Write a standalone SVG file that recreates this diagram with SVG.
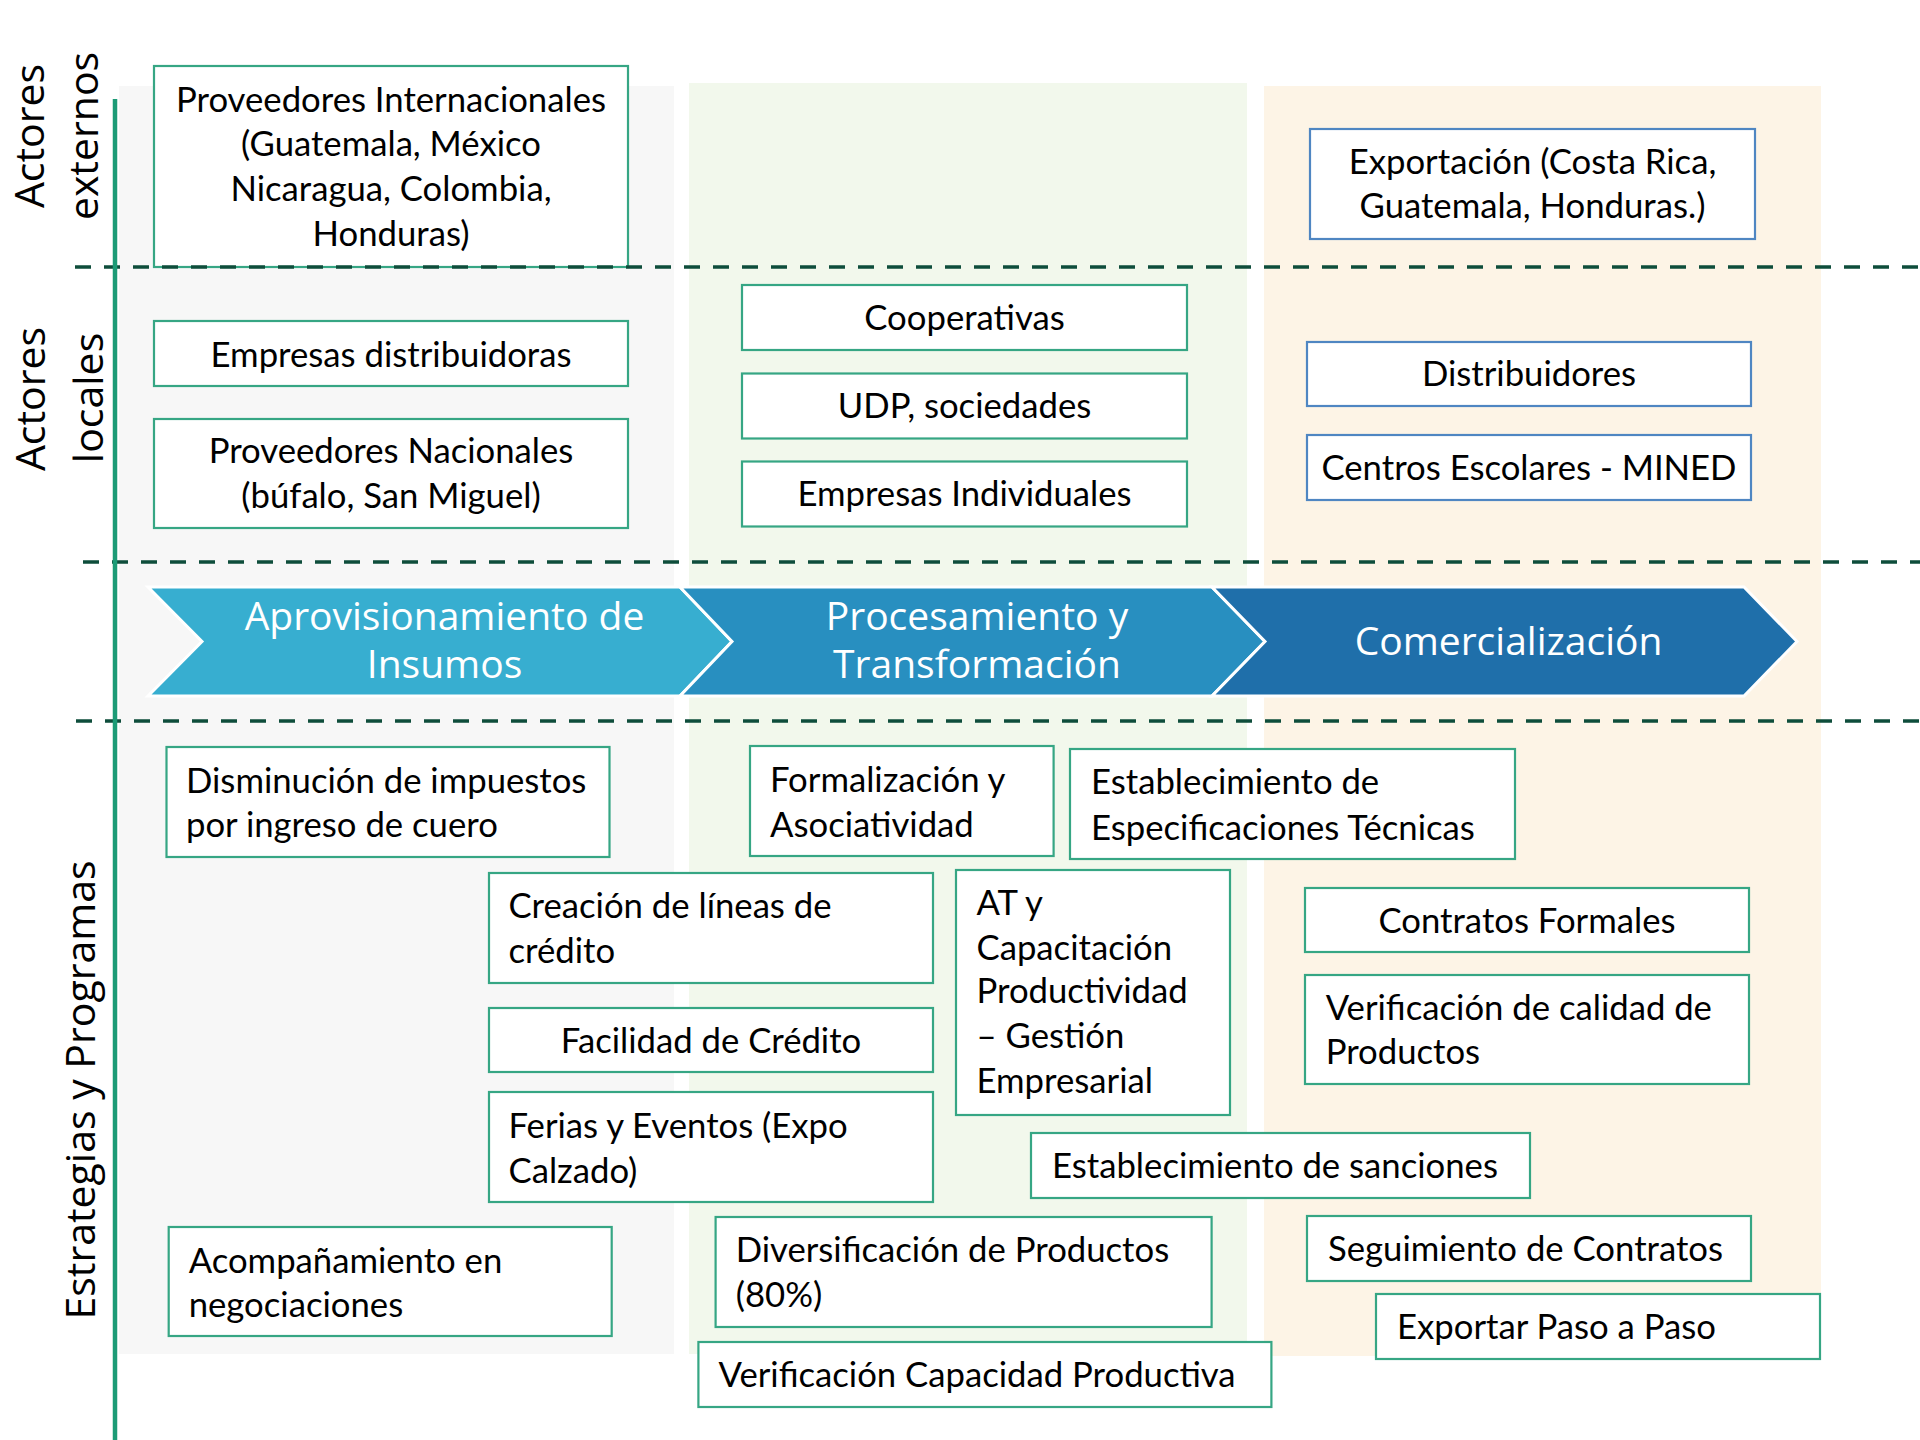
<svg xmlns="http://www.w3.org/2000/svg" width="1920" height="1440" viewBox="0 0 1920 1440">
<style>
.bg{fill:#ffffff}
.pg{fill:#f7f7f7}
.pv{fill:#f2f8ec}
.pb{fill:#fdf4e6}
.bx{fill:#ffffff;stroke:#36a684;stroke-width:2.2}
.bb{fill:#ffffff;stroke:#4f86c2;stroke-width:2.2}
.t{font-family:Lato,"Liberation Sans",sans-serif;font-size:34.7px;fill:#000000}
.c{text-anchor:middle}
.side{font-family:"Open Sans","Liberation Sans",sans-serif;font-size:41px;fill:#000000;text-anchor:middle}
.ct{font-family:"Open Sans","Liberation Sans",sans-serif;font-size:39px;fill:#ffffff;text-anchor:middle}
.dash{stroke:#0e4d3b;stroke-width:3.6;stroke-dasharray:16 13;fill:none}
.axis{stroke:#1c9b76;stroke-width:4.5;fill:none}
.chev{stroke:#ffffff;stroke-width:3;stroke-linejoin:miter}
</style>
<rect class="bg" x="0" y="0" width="1920" height="1440"/>
<g id="panels">
<rect class="pg" x="119" y="86" width="555" height="1268"/>
<rect class="pv" x="689" y="83" width="558" height="1271"/>
<rect class="pb" x="1264" y="86" width="557" height="1270"/>
</g>
<g id="row-labels">
<text class="side" transform="translate(44,136) rotate(-90)">Actores</text>
<text class="side" transform="translate(98,136) rotate(-90)">externos</text>
<text class="side" transform="translate(45,399) rotate(-90)">Actores</text>
<text class="side" transform="translate(103,398) rotate(-90)">locales</text>
<text class="side" transform="translate(95,1090) rotate(-90)">Estrategias y Programas</text>
</g>
<g id="n1"><rect class="bx" x="154" y="66" width="474" height="201"/>
<text class="t c" x="391" y="111.5">Proveedores Internacionales</text>
<text class="t c" x="391" y="156">(Guatemala, México</text>
<text class="t c" x="391" y="200.5">Nicaragua, Colombia,</text>
<text class="t c" x="391" y="245.5">Honduras)</text></g>
<g id="n2"><rect class="bx" x="154" y="321" width="474" height="65"/>
<text class="t c" x="391" y="366.5">Empresas distribuidoras</text></g>
<g id="n3"><rect class="bx" x="154" y="419" width="474" height="109"/>
<text class="t c" x="391" y="463.3">Proveedores Nacionales</text>
<text class="t c" x="391" y="507.9">(búfalo, San Miguel)</text></g>
<g id="n4"><rect class="bx" x="742" y="285" width="445" height="65"/>
<text class="t c" x="964.5" y="329.5">Cooperativas</text></g>
<g id="n5"><rect class="bx" x="742" y="373.5" width="445" height="65"/>
<text class="t c" x="964.5" y="417.5">UDP, sociedades</text></g>
<g id="n6"><rect class="bx" x="742" y="461.5" width="445" height="65"/>
<text class="t c" x="964.5" y="505.5">Empresas Individuales</text></g>
<g id="n7"><rect class="bb" x="1310" y="129" width="445" height="110"/>
<text class="t c" x="1532.5" y="173.5">Exportación (Costa Rica,</text>
<text class="t c" x="1532.5" y="218">Guatemala, Honduras.)</text></g>
<g id="n8"><rect class="bb" x="1307" y="342" width="444" height="64"/>
<text class="t c" x="1529" y="385.5">Distribuidores</text></g>
<g id="n9"><rect class="bb" x="1307" y="435" width="444" height="65"/>
<text class="t c" x="1529" y="479.5">Centros Escolares - MINED</text></g>
<g id="n10"><rect class="bx" x="166.5" y="747" width="443" height="110"/>
<text class="t" x="186" y="792.7">Disminución de impuestos</text>
<text class="t" x="186" y="836.8">por ingreso de cuero</text></g>
<g id="n11"><rect class="bx" x="750" y="746" width="303.6" height="110"/>
<text class="t" x="770" y="791.5">Formalización y</text>
<text class="t" x="770" y="836.5">Asociatividad</text></g>
<g id="n12"><rect class="bx" x="1070" y="749" width="445" height="110"/>
<text class="t" x="1091" y="794">Establecimiento de</text>
<text class="t" x="1091" y="839.5">Especificaciones Técnicas</text></g>
<g id="n13"><rect class="bx" x="489" y="873" width="444" height="110"/>
<text class="t" x="508.5" y="918">Creación de líneas de</text>
<text class="t" x="508.5" y="963">crédito</text></g>
<g id="n14"><rect class="bx" x="956" y="870" width="274" height="245"/>
<text class="t" x="976.5" y="915">AT y</text>
<text class="t" x="976.5" y="959.5">Capacitación</text>
<text class="t" x="976.5" y="1003">Productividad</text>
<text class="t" x="976.5" y="1048">– Gestión</text>
<text class="t" x="976.5" y="1093">Empresarial</text></g>
<g id="n15"><rect class="bx" x="1305" y="888" width="444" height="64"/>
<text class="t c" x="1527" y="933">Contratos Formales</text></g>
<g id="n16"><rect class="bx" x="1305" y="975" width="444" height="109"/>
<text class="t" x="1325.7" y="1019.8">Verificación de calidad de</text>
<text class="t" x="1325.7" y="1064.2">Productos</text></g>
<g id="n17"><rect class="bx" x="489" y="1008" width="444" height="64"/>
<text class="t c" x="711" y="1053">Facilidad de Crédito</text></g>
<g id="n18"><rect class="bx" x="489" y="1092" width="444" height="110"/>
<text class="t" x="508.5" y="1138">Ferias y Eventos (Expo</text>
<text class="t" x="508.5" y="1183">Calzado)</text></g>
<g id="n19"><rect class="bx" x="1031" y="1133" width="499" height="65"/>
<text class="t" x="1052" y="1178">Establecimiento de sanciones</text></g>
<g id="n20"><rect class="bx" x="1307" y="1216" width="444" height="65"/>
<text class="t" x="1328" y="1261">Seguimiento de Contratos</text></g>
<g id="n21"><rect class="bx" x="168.7" y="1227" width="443" height="109"/>
<text class="t" x="188.7" y="1272.5">Acompañamiento en</text>
<text class="t" x="188.7" y="1316.5">negociaciones</text></g>
<g id="n22"><rect class="bx" x="715.6" y="1217" width="496" height="110"/>
<text class="t" x="735.7" y="1261.5">Diversificación de Productos</text>
<text class="t" x="735.7" y="1306.5">(80%)</text></g>
<g id="n23"><rect class="bx" x="1376" y="1294" width="444" height="65"/>
<text class="t" x="1397" y="1339">Exportar Paso a Paso</text></g>
<g id="n24"><rect class="bx" x="698.4" y="1342" width="573" height="65"/>
<text class="t" x="718.5" y="1386.5">Verificación Capacidad Productiva</text></g>
<g id="chain">
<g id="stage1"><polygon class="chev" fill="#37aed0" points="148,587 680,587 732,641.5 680,696 148,696 202,641.5"/>
<text class="ct" x="444.5" y="630">Aprovisionamiento de</text>
<text class="ct" x="444.5" y="678">Insumos</text></g>
<g id="stage2"><polygon class="chev" fill="#288fc0" points="680,587 1212,587 1265,641.5 1212,696 680,696 732,641.5"/>
<text class="ct" x="977" y="630">Procesamiento y</text>
<text class="ct" x="977" y="678">Transformación</text></g>
<g id="stage3"><polygon class="chev" fill="#1f6faa" points="1212,587 1744,587 1797,641.5 1744,696 1212,696 1265,641.5"/>
<text class="ct" x="1508.5" y="655">Comercialización</text></g>
</g>
<g id="connectors">
<line class="dash" x1="75" y1="267" x2="1920" y2="267"/>
<line class="dash" x1="83" y1="562" x2="1920" y2="562"/>
<line class="dash" x1="76" y1="721" x2="1920" y2="721"/>
<line class="axis" x1="115" y1="99" x2="115" y2="1440"/>
</g>
</svg>
